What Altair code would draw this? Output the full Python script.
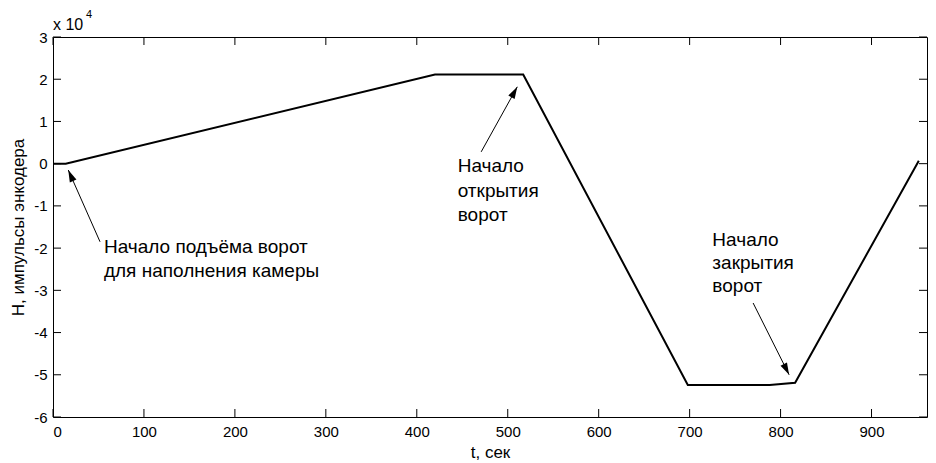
import math
import altair as alt
import pandas as pd

# ---- data ----
t_sec = [0, 14, 420, 517, 698, 788, 816, 952]
h_pulses = [0, 0, 21100, 21100, -52400, -52400, -51900, 700]

x_ticks = [0, 100, 200, 300, 400, 500, 600, 700, 800, 900]
y_ticks = [-6, -5, -4, -3, -2, -1, 0, 1, 2, 3]

# annotation texts (one row per line) and their anchor in data units (x1e4)
ann_lines = ["Начало подъёма ворот", "для наполнения камеры",
             "Начало", "открытия", "ворот",
             "Начало", "закрытия", "ворот"]
ann_t = [56, 56, 445, 445, 445, 725, 725, 725]
ann_h = [-1.97, -2.54, -0.06, -0.65, -1.22, -1.81, -2.36, -2.90]

# arrows: tail -> head (data units, H in x1e4)
arr_tail_t = [51.7, 470.8, 769.8]
arr_tail_h = [-1.85, 0.28, -3.30]
arr_head_t = [16.8, 510.5, 809.4]
arr_head_h = [-0.15, 1.82, -5.00]

SCALE = 1e4
W, H = 874, 380
X_MAX = 961
Y_MIN, Y_MAX = -6, 3
FONT = "Liberation Sans"
X_TITLE = "t, сек"
Y_TITLE = "H, импульсы энкодера"

xs = alt.Scale(domain=[0, X_MAX], nice=False, zero=False)
ys = alt.Scale(domain=[Y_MIN, Y_MAX], nice=False, zero=False)

x_axis = alt.Axis(values=x_ticks, ticks=False, tickSize=0, labelPadding=7,
                  labelExpr="'' + datum.value",
                  domain=False, grid=False, labelFontSize=15, labelFont=FONT,
                  labelColor="black", titleFont=FONT, titleFontSize=17,
                  titleFontWeight="normal", titleColor="black",
                  titleY=35, titleBaseline="middle")
y_axis = alt.Axis(values=y_ticks, ticks=False, tickSize=0, labelPadding=6,
                  labelExpr="'' + datum.value",
                  domain=False, grid=False, labelFontSize=15, labelFont=FONT,
                  labelColor="black", titleFont=FONT, titleFontSize=17,
                  titleFontWeight="normal", titleColor="black",
                  titleX=-35, titleY=H / 2, titleAngle=270,
                  titleAlign="center", titleBaseline="middle")


def X(field):
    return alt.X(field, scale=xs, axis=x_axis, title=X_TITLE)


def Y(field):
    return alt.Y(field, scale=ys, axis=y_axis, title=Y_TITLE)


line_df = pd.DataFrame({"t": t_sec, "h": [v / SCALE for v in h_pulses]})
xt_df = pd.DataFrame({"t": x_ticks})
yt_df = pd.DataFrame({"h": y_ticks})
ann_df = pd.DataFrame({"t": ann_t, "h": ann_h, "label": ann_lines})

px_x = W / X_MAX
px_y = H / (Y_MAX - Y_MIN)
angles = []
for tt, th, ht, hh in zip(arr_tail_t, arr_tail_h, arr_head_t, arr_head_h):
    dx = (ht - tt) * px_x
    dy = -(hh - th) * px_y
    angles.append(math.degrees(math.atan2(dx, -dy)) % 360)
arr_df = pd.DataFrame({"t": arr_tail_t, "h": arr_tail_h,
                       "t2": arr_head_t, "h2": arr_head_h, "ang": angles})

line = alt.Chart(line_df).mark_line(color="black", strokeWidth=2).encode(
    x=X("t:Q"), y=Y("h:Q"))

TL = 8
xb = alt.Chart(xt_df).mark_rule(color="black", strokeWidth=1).encode(
    x=X("t:Q"), y=alt.value(H), y2=alt.value(H - TL))
xtp = alt.Chart(xt_df).mark_rule(color="black", strokeWidth=1).encode(
    x=X("t:Q"), y=alt.value(0), y2=alt.value(TL))
yl = alt.Chart(yt_df).mark_rule(color="black", strokeWidth=1).encode(
    y=Y("h:Q"), x=alt.value(0), x2=alt.value(TL))
yr = alt.Chart(yt_df).mark_rule(color="black", strokeWidth=1).encode(
    y=Y("h:Q"), x=alt.value(W), x2=alt.value(W - TL))

arrows = alt.Chart(arr_df).mark_rule(color="black", strokeWidth=1).encode(
    x=X("t:Q"), y=Y("h:Q"), x2="t2:Q", y2="h2:Q")
heads = alt.Chart(arr_df).mark_point(
    shape="M0,0L0.6,2L-0.6,2Z", filled=True, color="black", opacity=1, size=144
).encode(x=X("t2:Q"), y=Y("h2:Q"), angle=alt.Angle("ang:Q", scale=None))

texts = alt.Chart(ann_df).mark_text(
    align="left", baseline="middle", font=FONT, fontSize=19, color="black"
).encode(x=X("t:Q"), y=Y("h:Q"), text="label:N")

exp_df = pd.DataFrame({"a": ["x 10"], "b": ["4"]})
exp_main = alt.Chart(exp_df).mark_text(
    align="left", baseline="middle", font=FONT, fontSize=16, color="black"
).encode(x=alt.value(0), y=alt.value(-12), text="a:N")
exp_sup = alt.Chart(exp_df).mark_text(
    align="left", baseline="middle", font=FONT, fontSize=11, color="black"
).encode(x=alt.value(33), y=alt.value(-22), text="b:N")

chart = alt.layer(line, xb, xtp, yl, yr, arrows, heads, texts, exp_main, exp_sup).properties(
    width=W, height=H,
    autosize=alt.AutoSizeParams(type="none"),
    padding={"left": 45, "top": 29, "right": 1, "bottom": 43},
    background="white",
).configure_view(stroke="black", strokeWidth=1)

chart.save("out.html", embed_options={"renderer": "svg", "actions": False})
